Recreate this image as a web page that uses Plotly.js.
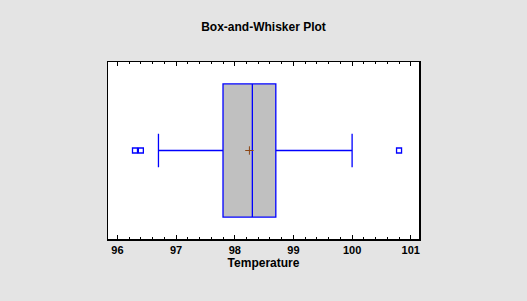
<!DOCTYPE html>
<html><head><meta charset="utf-8">
<script src="https://cdn.plot.ly/plotly-3.0.1.min.js"></script>
<style>html,body{margin:0;padding:0;background:#e4e4e4;}</style>
</head><body>
<div id="chart" style="width:527px;height:301px;"></div>
<script>
// Summary statistics (Temperature)
const q1 = [97.8];
const median = [98.3];
const q3 = [98.7];
const lowerWhisker = [96.7];
const upperWhisker = [100.0];
const meanValue = [98.25];
const outliers = [96.3, 96.4, 100.8];
const xTicks = [96, 97, 98, 99, 100, 101];

const fontFam = '"Liberation Sans", Arial, sans-serif';

const traces = [
  {
    type: 'box', orientation: 'h',
    y: [0], q1: q1, median: median, q3: q3,
    lowerfence: lowerWhisker, upperfence: upperWhisker,
    width: 1.0, whiskerwidth: 0.25,
    fillcolor: '#c0c0c0',
    line: {color: '#0000ff', width: 1.3},
    boxpoints: false, hoverinfo: 'skip', showlegend: false
  },
  {
    type: 'scatter', mode: 'markers',
    x: outliers, y: outliers.map(() => 0),
    marker: {symbol: 'square-open', size: 5, color: '#0000ff', line: {width: 1.3, color: '#0000ff'}},
    showlegend: false, hoverinfo: 'skip'
  },
  {
    type: 'scatter', mode: 'markers',
    x: meanValue, y: [0],
    marker: {symbol: 'cross-thin-open', size: 6, color: '#8b4513', line: {width: 1, color: '#8b4513'}},
    showlegend: false, hoverinfo: 'skip'
  }
];

const layout = {
  width: 527, height: 301,
  margin: {l: 108, r: 108, t: 62, b: 62},
  paper_bgcolor: '#e4e4e4', plot_bgcolor: '#ffffff',
  title: {text: '<b>Box-and-Whisker Plot</b>', x: 0.5, xanchor: 'center', y: 0.91, yanchor: 'middle',
          font: {family: fontFam, size: 12, color: '#000'}},
  xaxis: {
    range: [95.84, 101.14], tickvals: xTicks, ticktext: xTicks.map(String),
    ticks: 'inside', ticklen: 4, tickwidth: 1, tickcolor: '#000',
    minor: {dtick: 0.2, tick0: 96, ticks: 'inside', ticklen: 2, tickcolor: '#000', showgrid: false},
    showgrid: false, zeroline: false,
    showline: true, linecolor: '#000', linewidth: 1.5, mirror: 'allticks',
    tickfont: {family: fontFam, size: 11, color: '#000', weight: 'bold'},
    title: {text: '<b>Temperature</b>', font: {family: fontFam, size: 12, color: '#000'}, standoff: 2}
  },
  yaxis: {
    range: [-0.665, 0.665], showticklabels: false, ticks: '', showgrid: false, zeroline: false,
    showline: true, linecolor: '#000', linewidth: 1.5, mirror: true, fixedrange: true
  },
  showlegend: false
};

Plotly.newPlot('chart', traces, layout, {staticPlot: true, displayModeBar: false});
</script>
</body></html>
